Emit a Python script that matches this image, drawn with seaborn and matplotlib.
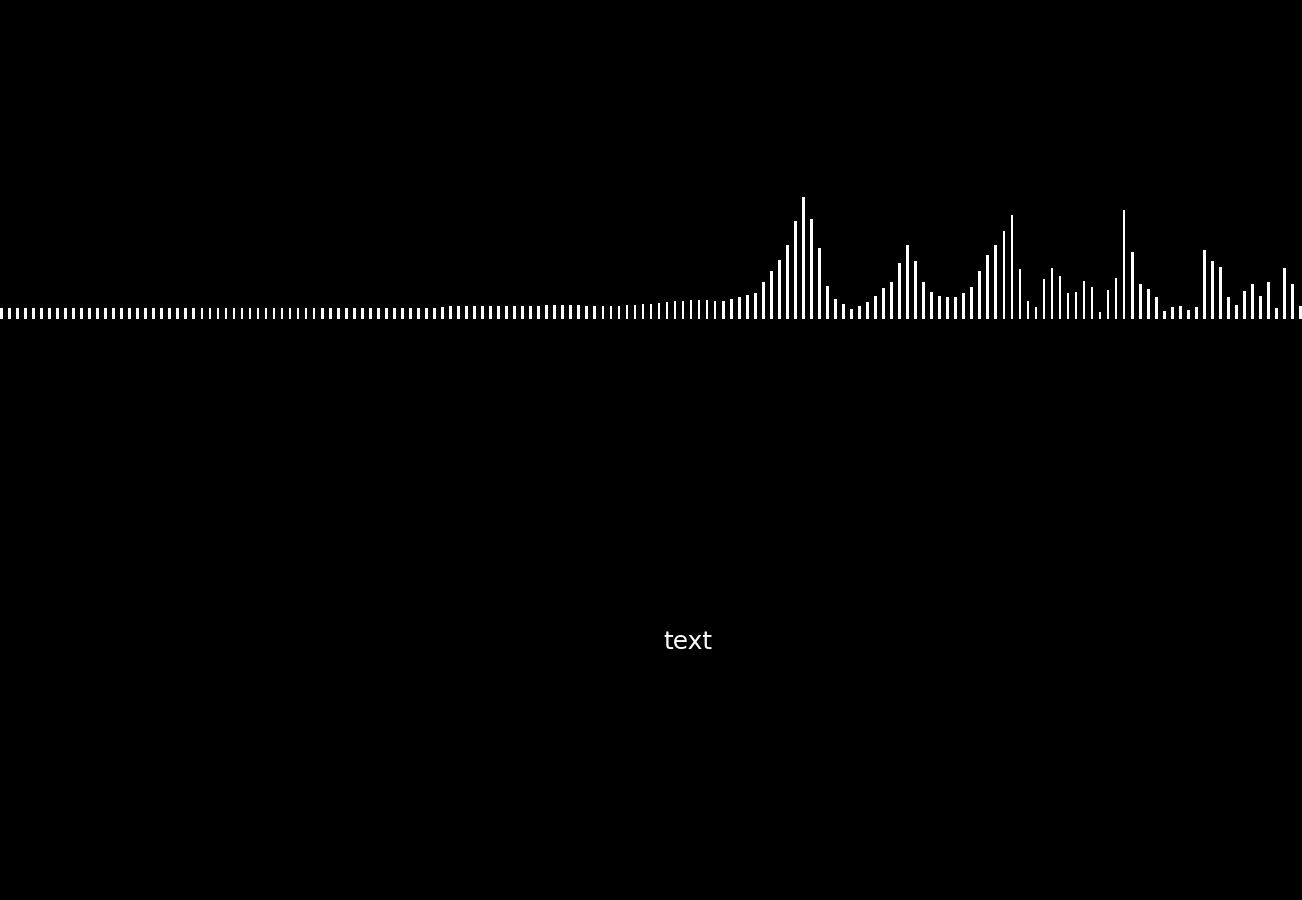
"""Spectrum-style bar strip on a black background."""

import matplotlib
matplotlib.use("Agg")
import matplotlib.pyplot as plt
import seaborn as sns
import numpy as np
import pandas as pd

# bar heights (one value per bar, left to right)
flat_start = [11, 11, 11, 11, 11, 11, 11, 11, 11, 11,
              11, 11, 11, 11, 11, 11, 11, 11, 11, 11,
              11, 11, 11, 11, 11, 11, 11, 11, 11, 11,
              11, 11, 11, 11, 11, 11, 11, 11, 11, 11,
              11, 11, 11, 11, 11, 11, 11, 11, 11, 11,
              11, 11, 11, 11, 11]
slow_rise = [12, 13, 13, 13, 13, 13, 13, 13, 13, 13, 13, 13, 13,
             14, 14, 14, 14, 14, 13, 13, 13, 13, 13, 14, 14]
ramp = [15, 15, 16, 17, 18, 18, 19, 19, 19, 18, 18, 20, 22, 24]
peak_one = [26, 37, 48, 59, 74, 98, 122, 100, 71, 33, 20, 15, 10, 13]
peak_two = [17, 23, 31, 37, 56, 74, 58, 37, 27, 23, 22, 22, 26, 32]
peak_three = [48, 64, 74, 88, 104, 50, 18, 12, 40, 51, 43, 26, 27, 38]
tail_one = [32, 7, 29, 41, 109, 67, 35, 30, 22, 8, 12, 13, 9]
tail_two = [12, 69, 58, 52, 22, 14, 28, 35, 23, 37, 11, 51, 35, 13]

levels = flat_start + slow_rise + ramp + peak_one + peak_two + peak_three + tail_one + tail_two
label = "text"

df = pd.DataFrame({"bin": np.arange(len(levels)), "level": levels})

sns.set_style("dark", {"axes.facecolor": "black", "figure.facecolor": "black"})
plt.rcParams["font.family"] = ["DejaVu Sans"]

W, H = 1302, 900
fig = plt.figure(figsize=(W / 100, H / 100), dpi=100, facecolor="black")
ax = fig.add_axes([0, 0, 1, 1])
ax.set_facecolor("black")

step = 8.02      # pixels between bars
bar_px = 2.7     # bar width in pixels
sns.barplot(data=df, x="bin", y="level", color="white", saturation=1,
            width=bar_px / step, edgecolor="none", linewidth=0, ax=ax)

left = -(bar_px / 2) / step
ax.set_xlim(left, left + W / step)
base = 319       # baseline, pixels from top
ax.set_ylim(-(H - base), base)
ax.axis("off")

fig.text(688 / W, (H - 649) / H, label, color="white", fontsize=18,
         ha="center", va="baseline")

fig.savefig("out.png", dpi=100, facecolor="black")
